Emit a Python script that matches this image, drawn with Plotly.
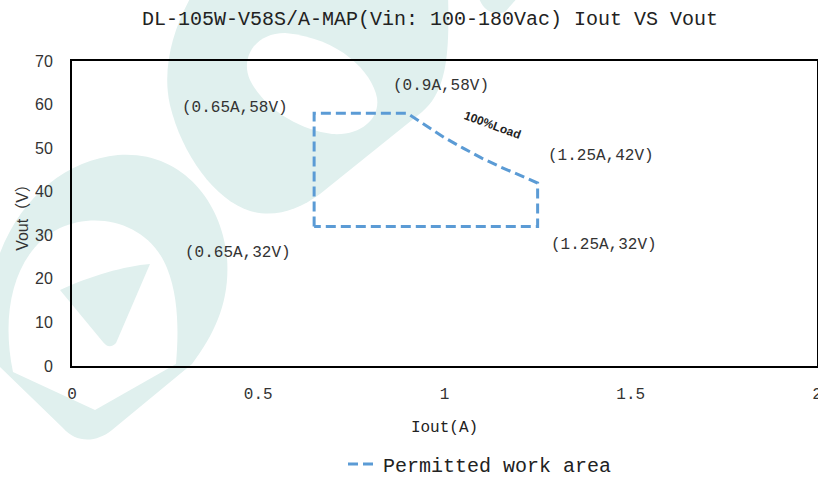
import plotly.graph_objects as go

# ---- data ----
iout = [0.65, 0.65, 0.9, 0.95, 1.0, 1.05, 1.1, 1.15, 1.2, 1.25, 1.25, 0.65]
vout = [32, 58, 58, 55.2, 52.4, 50.0, 47.7, 45.7, 43.8, 42, 32, 32]
series_name = "Permitted work area"

point_labels = ["(0.65A,58V)", "(0.9A,58V)", "(1.25A,42V)", "(1.25A,32V)", "(0.65A,32V)"]
label_x = [0.437, 0.99, 1.42, 1.428, 0.446]
label_y = [59.2, 64.3, 48.2, 27.8, 25.9]

load_label = "100%Load"
load_x, load_y = 1.128, 55.4

x_ticks = [0, 0.5, 1, 1.5, 2]
y_ticks = [0, 10, 20, 30, 40, 50, 60, 70]

title_text = "DL-105W-V58S/A-MAP(Vin: 100-180Vac) Iout VS Vout"
x_title = "Iout(A)"
y_title = "Vout（V）"

# ---- layout geometry (pixels) ----
W, H = 818, 477
L, R, T, B = 72, 817, 61, 366


def pp(x, y):
    return "%.4f,%.4f" % ((x - L) / (R - L), (B - y) / (B - T))


def build(cmds):
    out = []
    for c, pts in cmds:
        out.append(c + " ".join(pp(*p) for p in pts))
    return " ".join(out)


wm = "rgba(224,240,238,1)"
shapes = []
# upper watermark shape
shapes.append(dict(type="path", xref="paper", yref="paper", layer="below", line=dict(width=0), fillcolor=wm,
                   path=build([("M", [(192, -5)]),
                               ("C", [(172, 30), (162, 70), (170, 105)]),
                               ("C", [(182, 155), (215, 200), (250, 211)]),
                               ("C", [(275, 218), (298, 210), (320, 194)]),
                               ("L", [(422, 112)]),
                               ("C", [(445, 92), (450, 60), (448, -5)]),
                               ("Z", [])])))
shapes.append(dict(type="path", xref="paper", yref="paper", layer="below", line=dict(width=0), fillcolor="white",
                   path=build([("M", [(285, 33)]),
                               ("C", [(255, 33), (240, 58), (250, 80)]),
                               ("C", [(265, 110), (300, 130), (332, 134)]),
                               ("C", [(362, 136), (380, 118), (377, 98)]),
                               ("C", [(372, 72), (340, 38), (285, 33)]),
                               ("Z", [])])))
# lower-left watermark shape
shapes.append(dict(type="path", xref="paper", yref="paper", layer="below", line=dict(width=0), fillcolor=wm,
                   path=build([("M", [(-5, 268)]),
                               ("C", [(15, 200), (65, 160), (118, 155)]),
                               ("C", [(180, 150), (222, 200), (227, 258)]),
                               ("C", [(230, 300), (216, 332), (192, 364)]),
                               ("L", [(112, 430)]),
                               ("C", [(96, 443), (76, 443), (63, 428)]),
                               ("L", [(-5, 362)]),
                               ("Z", [])])))
shapes.append(dict(type="path", xref="paper", yref="paper", layer="below", line=dict(width=0), fillcolor="white",
                   path=build([("M", [(13, 372)]),
                               ("C", [(0, 310), (15, 250), (60, 228)]),
                               ("C", [(100, 210), (150, 225), (167, 268)]),
                               ("C", [(180, 300), (178, 340), (176, 364)]),
                               ("L", [(95, 410)]),
                               ("Z", [])])))
shapes.append(dict(type="path", xref="paper", yref="paper", layer="below", line=dict(width=0), fillcolor=wm,
                   path=build([("M", [(60, 290)]),
                               ("C", [(90, 276), (125, 266), (150, 264)]),
                               ("L", [(116, 343)]),
                               ("C", [(111, 348), (107, 347), (103, 342)]),
                               ("Z", [])])))
shapes.append(dict(type="path", xref="paper", yref="paper", layer="below", line=dict(width=0), fillcolor=wm,
                   path=build([("M", [(478, -5)]),
                               ("C", [(482, 10), (492, 16), (505, 12)]),
                               ("L", [(520, -5)]),
                               ("Z", [])])))

fig = go.Figure()
fig.add_trace(go.Scatter(
    x=iout, y=vout, mode="lines", name=series_name,
    line=dict(color="#5b9bd5", width=3, dash="10px,5px"),
    showlegend=True,
))

mono = "Liberation Mono, DejaVu Sans Mono, monospace"
sans = "Liberation Sans, Noto Sans CJK SC, Arial"
annotations = []
for t, x, y in zip(point_labels, label_x, label_y):
    annotations.append(dict(x=x, y=y, xref="x", yref="y", text=t, showarrow=False,
                            font=dict(family=mono, size=16, color="#333333")))
annotations.append(dict(x=load_x, y=load_y, xref="x", yref="y", text="<b>" + load_label + "</b>", showarrow=False,
                        textangle=20, font=dict(family="Liberation Sans Narrow, Liberation Sans, Arial", size=12,
                                                color="#222222")))

fig.update_layout(
    width=W, height=H,
    margin=dict(l=L, r=W - R, t=T, b=H - B, pad=0, autoexpand=False),
    paper_bgcolor="white", plot_bgcolor="rgba(0,0,0,0)",
    title=dict(text=title_text, x=430 / W, xanchor="center", y=1 - 18 / H, yanchor="middle",
               font=dict(family=mono, size=20, color="#222222")),
    xaxis=dict(range=[0, 2], tickvals=x_ticks, ticktext=[str(v) for v in x_ticks], automargin=False,
               showgrid=False, zeroline=False, showline=True, linecolor="black", linewidth=2, mirror=True,
               ticks="", ticklabelstandoff=12, ticklabeloverflow="allow",
               tickfont=dict(family=mono, size=16, color="#333333"),
               title=dict(text=x_title, standoff=18, font=dict(family=mono, size=16, color="#222222"))),
    yaxis=dict(range=[0, 70], tickvals=y_ticks, automargin=False,
               showgrid=False, zeroline=False, showline=True, linecolor="black", linewidth=2, mirror=True,
               ticks="", ticklabelstandoff=14,
               tickfont=dict(family="Liberation Sans, Arial", size=16, color="#333333"),
               title=dict(text=y_title, standoff=2, font=dict(family=sans, size=16, color="#333333"))),
    legend=dict(orientation="h", x=(480 - L) / (R - L), xanchor="center", y=(B - 464) / (B - T), yanchor="middle",
                font=dict(family=mono, size=20, color="#222222"), itemwidth=30, bgcolor="rgba(0,0,0,0)"),
    shapes=shapes,
    annotations=annotations,
)

fig.write_html("out.html", config={"displayModeBar": False},
               post_script="document.body.style.margin='0';document.body.style.overflow='hidden';")
